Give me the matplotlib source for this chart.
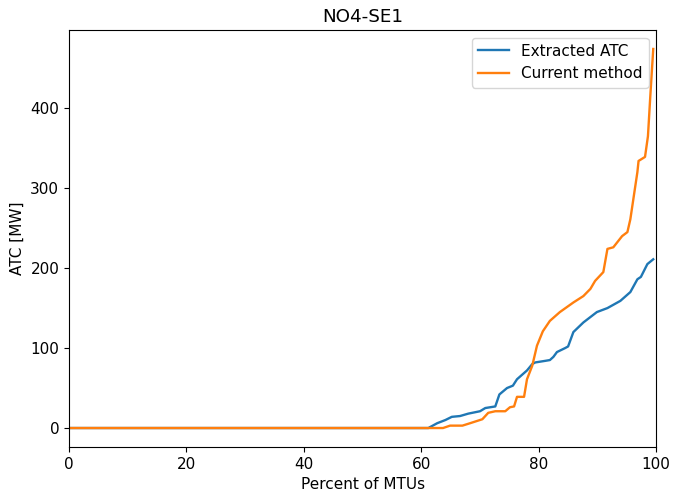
import matplotlib
matplotlib.use("Agg")
import matplotlib.pyplot as plt

plt.rcParams["font.size"] = 11
plt.rcParams["lines.linewidth"] = 1.7

# Sorted ATC duration curves
extracted_pct = [0, 61.2, 62.7, 64.1, 65.2, 66.6, 68.0, 70.0, 70.9, 72.6, 73.3, 74.6,
                 75.6, 76.3, 78.0, 78.9, 79.4, 81.1, 81.9, 82.5, 83.1, 84.5, 85.0,
                 85.9, 87.6, 89.9, 91.7, 93.9, 95.6, 96.8, 97.4, 98.5, 99.5]
extracted_atc = [0, 0, 6, 10, 14, 15, 18, 21, 25, 27, 42, 50,
                 53, 61, 72, 80, 82, 84, 85, 89, 95, 100, 102,
                 120, 132, 145, 150, 159, 170, 186, 189, 205, 211]

current_pct = [0, 63.7, 64.9, 67.0, 68.3, 70.4, 71.4, 72.6, 74.3, 75.1, 75.8, 76.3,
               77.5, 78.0, 78.9, 79.7, 80.7, 81.9, 83.6, 85.9, 87.6, 88.8, 89.6,
               91.0, 91.7, 92.7, 94.2, 95.1, 95.6, 96.8, 97.0, 98.1, 98.6, 99.0, 99.5]
current_atc = [0, 0, 3, 3, 6, 11, 19, 21, 21, 26, 27, 39,
               39, 61, 78, 103, 121, 134, 145, 157, 165, 174, 184,
               195, 224, 226, 240, 245, 261, 320, 334, 339, 365, 415, 474]

fig = plt.figure(figsize=(6.73, 4.92), dpi=100)
ax = fig.add_axes([0.1025, 0.0915, 0.8725, 0.8475])
ax.plot(extracted_pct, extracted_atc, label="Extracted ATC")
ax.plot(current_pct, current_atc, label="Current method")
ax.set_xlim(0, 100)
ax.set_title("NO4-SE1")
ax.set_xlabel("Percent of MTUs")
ax.set_ylabel("ATC [MW]")
ax.legend(loc="upper right")
fig.savefig("out.png", dpi=100)
